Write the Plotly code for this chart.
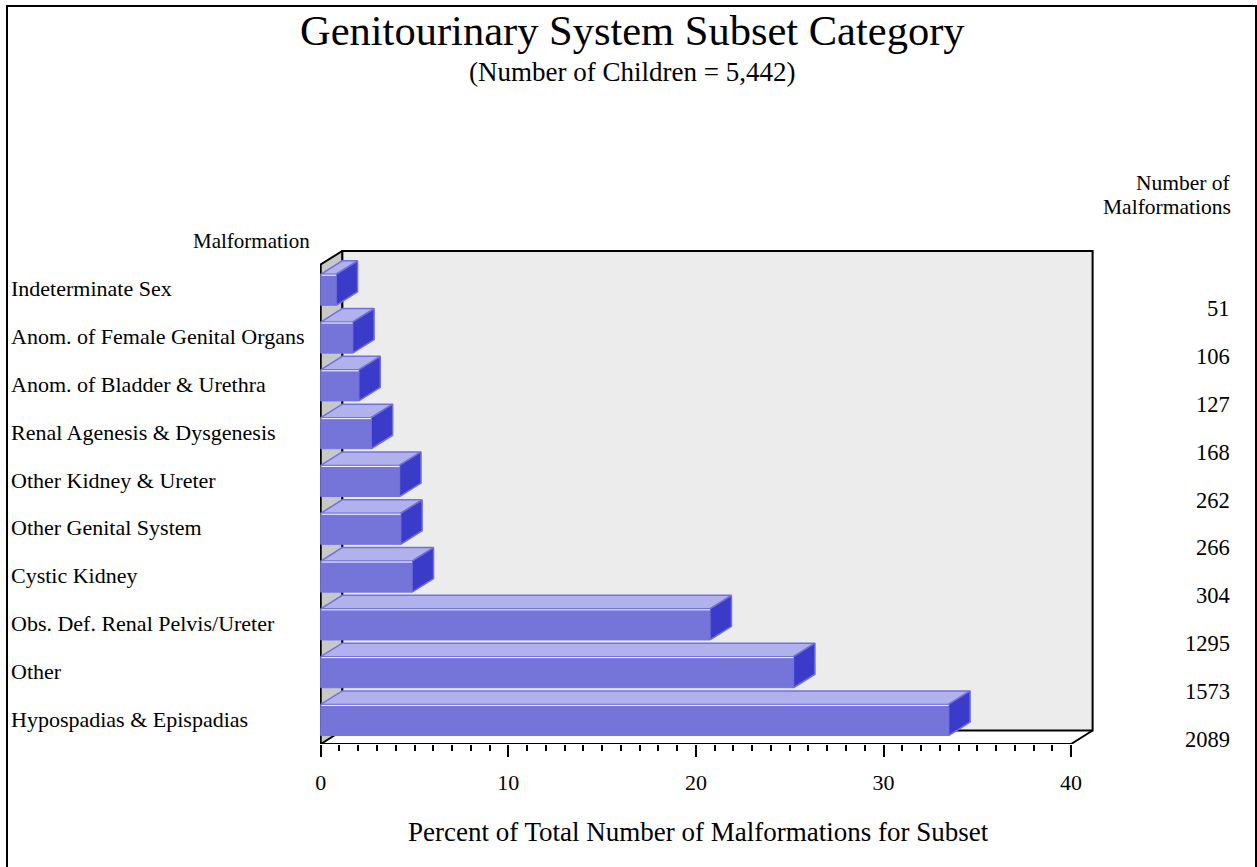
import plotly.graph_objects as go

# Malformation categories, listed from the bottom row upward
categories = [
    "Hypospadias & Epispadias",
    "Other",
    "Obs. Def. Renal Pelvis/Ureter",
    "Cystic Kidney",
    "Other Genital System",
    "Other Kidney & Ureter",
    "Renal Agenesis & Dysgenesis",
    "Anom. of Bladder & Urethra",
    "Anom. of Female Genital Organs",
    "Indeterminate Sex",
]
counts = [2089, 1573, 1295, 304, 266, 262, 168, 127, 106, 51]
percents = [33.47, 25.20, 20.75, 4.87, 4.26, 4.20, 2.69, 2.03, 1.70, 0.82]

major_ticks = [0, 10, 20, 30, 40]
minor_ticks = [v for v in range(1, 40) if v % 10]

W, H = 1257, 867
FONT = "Liberation Serif, Times New Roman, serif"

# plot-area geometry (pixels)
L, R, T, B = 320, 156, 240, 123
PW, PH = W - L - R, H - T - B
X0_PX, PPU_X = 320.7, 18.76      # pixel of x=0, pixels per percent
Y0_PX, PPU_Y = 720.0, 47.8       # pixel of first row, pixels per row
x_lo = (L - X0_PX) / PPU_X
x_hi = x_lo + PW / PPU_X
y_lo = (Y0_PX - (T + PH)) / PPU_Y
y_hi = (Y0_PX - T) / PPU_Y


def px_x(p):
    return (p - L) / PW


def px_y(p):
    return (T + PH - p) / PH


# depth of the 3-D frame and bars, in data units
DX = 21.5 / PPU_X
DY = 13.5 / PPU_Y
HALF = 0.325
y_floor = y_lo
y_top = (Y0_PX - 251) / PPU_Y
XMAX = 40

fig = go.Figure()

# back wall
fig.add_trace(go.Scatter(
    x=[DX, XMAX + DX, XMAX + DX, DX, DX],
    y=[y_floor + DY, y_floor + DY, y_top, y_top, y_floor + DY],
    mode="lines", fill="toself", fillcolor="#ececec",
    line=dict(color="black", width=2), hoverinfo="skip", showlegend=False))

# left wall
fig.add_trace(go.Scatter(
    x=[0, DX, DX, 0, 0],
    y=[y_floor, y_floor + DY, y_top, y_top - DY, y_floor],
    mode="lines", fill="toself", fillcolor="#c8c8c8",
    line=dict(color="black", width=2), hoverinfo="skip", showlegend=False))

# floor edges
fig.add_trace(go.Scatter(
    x=[0, XMAX, XMAX + DX],
    y=[y_floor, y_floor, y_floor + DY],
    mode="lines", line=dict(color="black", width=2),
    hoverinfo="skip", showlegend=False))

# bars, drawn from the top row down
front_x, front_y, top_x, top_y, side_x, side_y, hl_x, hl_y = ([] for _ in range(8))
for i in reversed(range(len(categories))):
    v, c = percents[i], i
    lo, hi = c - HALF, c + HALF
    front_x += [0, v, v, 0, 0, None]
    front_y += [lo, lo, hi, hi, lo, None]
    top_x += [0, v, v + DX, DX, 0, None]
    top_y += [hi, hi, hi + DY, hi + DY, hi, None]
    side_x += [v, v + DX, v + DX, v, v, None]
    side_y += [lo, lo + DY, hi + DY, hi, lo, None]
    hl_x += [0.05, v, None]
    hl_y += [hi - 0.02, hi - 0.02, None]

fig.add_trace(go.Scatter(x=front_x, y=front_y, mode="lines", fill="toself",
                         fillcolor="#7575d9", line=dict(color="#7575d9", width=1),
                         hoverinfo="skip", showlegend=False))
fig.add_trace(go.Scatter(x=top_x, y=top_y, mode="lines", fill="toself",
                         fillcolor="#b1b1eb", line=dict(color="#7272dc", width=1.5),
                         hoverinfo="skip", showlegend=False))
fig.add_trace(go.Scatter(x=side_x, y=side_y, mode="lines", fill="toself",
                         fillcolor="#3b3bc9", line=dict(color="#7070e0", width=1.5),
                         hoverinfo="skip", showlegend=False))
fig.add_trace(go.Scatter(x=hl_x, y=hl_y, mode="lines",
                         line=dict(color="white", width=1),
                         hoverinfo="skip", showlegend=False))

annotations = []
# category labels on the left, malformation counts on the right
for i, name in enumerate(categories):
    annotations.append(dict(
        x=px_x(9), xref="paper", y=i + 1 / PPU_Y, yref="y", text=name,
        xanchor="left", yanchor="middle", showarrow=False,
        font=dict(family=FONT, size=22, color="black")))
    annotations.append(dict(
        x=px_x(1232), xref="paper", y=i - 19 / PPU_Y, yref="y", text=str(counts[i]),
        xanchor="right", yanchor="middle", showarrow=False,
        font=dict(family=FONT, size=22.5, color="black")))

annotations += [
    dict(x=px_x(632), y=px_y(31), xref="paper", yref="paper",
         text="Genitourinary System Subset Category", showarrow=False,
         xanchor="center", yanchor="middle",
         font=dict(family=FONT, size=42.5, color="black")),
    dict(x=px_x(632), y=px_y(72), xref="paper", yref="paper",
         text="(Number of Children = 5,442)", showarrow=False,
         xanchor="center", yanchor="middle",
         font=dict(family=FONT, size=27, color="black")),
    dict(x=px_x(1233), y=px_y(183), xref="paper", yref="paper",
         text="Number of", showarrow=False,
         xanchor="right", yanchor="middle",
         font=dict(family=FONT, size=21.5, color="black")),
    dict(x=px_x(1233), y=px_y(207), xref="paper", yref="paper",
         text="Malformations", showarrow=False,
         xanchor="right", yanchor="middle",
         font=dict(family=FONT, size=21.5, color="black")),
    dict(x=px_x(312), y=px_y(241), xref="paper", yref="paper",
         text="Malformation", showarrow=False,
         xanchor="right", yanchor="middle",
         font=dict(family=FONT, size=21, color="black")),
    dict(x=px_x(698), y=px_y(832), xref="paper", yref="paper",
         text="Percent of Total Number of Malformations for Subset", showarrow=False,
         xanchor="center", yanchor="middle",
         font=dict(family=FONT, size=27, color="black")),
]

fig.update_layout(
    width=W, height=H,
    margin=dict(l=L, r=R, t=T, b=B, pad=0),
    paper_bgcolor="white", plot_bgcolor="white",
    showlegend=False,
    annotations=annotations,
    shapes=[dict(type="rect", xref="paper", yref="paper",
                 x0=px_x(7), x1=px_x(1256), y0=px_y(880), y1=px_y(6),
                 line=dict(color="black", width=2), layer="above")],
    xaxis=dict(
        range=[x_lo, x_hi], showgrid=False, zeroline=False, showline=False,
        tickmode="array", tickvals=major_ticks, ticktext=[str(t) for t in major_ticks],
        ticks="outside", ticklen=12, tickwidth=2, tickcolor="black",
        tickfont=dict(family=FONT, size=22, color="black"),
        ticklabelstandoff=7,
        minor=dict(tickvals=minor_ticks, ticks="outside", ticklen=6,
                   tickwidth=2, tickcolor="black", showgrid=False),
        fixedrange=True,
    ),
    yaxis=dict(range=[y_lo, y_hi], visible=False, fixedrange=True),
)

fig.write_html("out.html")
